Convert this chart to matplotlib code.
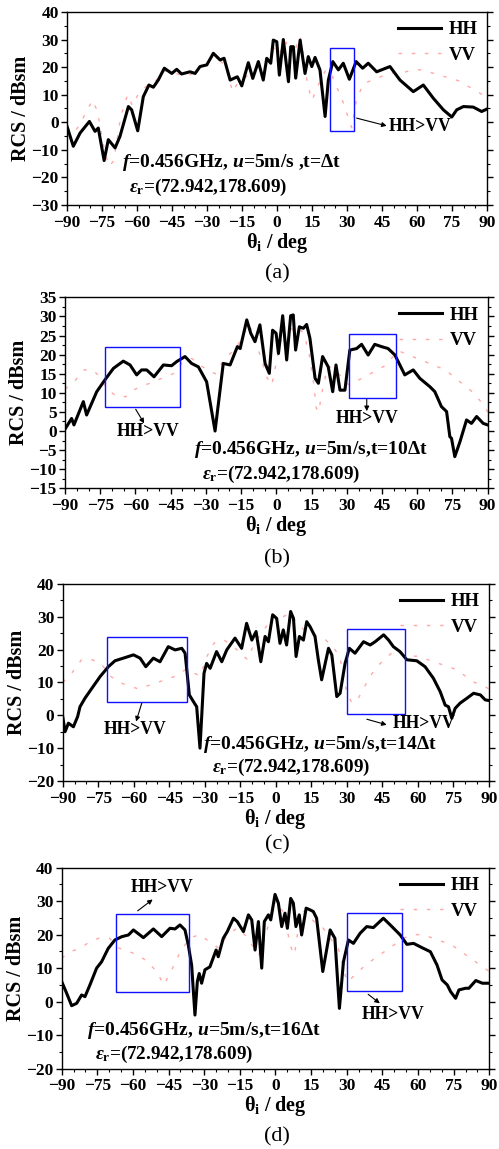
import numpy as np
import matplotlib
matplotlib.use('Agg')
import matplotlib.pyplot as plt
from matplotlib.patches import Rectangle

plt.rcParams['font.family'] = 'Liberation Serif'
plt.rcParams['font.weight'] = 'bold'
plt.rcParams['mathtext.fontset'] = 'custom'
plt.rcParams['mathtext.rm'] = 'Liberation Serif:bold'
plt.rcParams['mathtext.bf'] = 'Liberation Serif:bold'
plt.rcParams['mathtext.it'] = 'Liberation Serif:italic:bold'

# ---- (a) t = dt
hh_a_x = [-90, -87.3, -84.4, -80.4, -78, -76.6, -74.1, -72.3, -69.4, -67.3, -63.7, -62.3, -59.7, -57.3,
          -54.9, -53, -50.9, -48.3, -45.1, -43, -40.9, -37.3, -35.1, -33, -30.1, -27.3, -24.4, -22.7,
          -20.1, -17, -15.1, -12.3, -10.4, -8, -5.9, -4.4, -2.7, -1.6, -0.1, 1, 2.7, 4.9, 5.9, 7, 8,
          9.9, 12, 13.4, 14.9, 16.3, 18.4, 20.6, 22, 23.9, 26.3, 28.4, 31, 33.9, 36.7, 39.1, 42.7,
          48.4, 52.7, 58.4, 62.7, 67, 71.3, 74.9, 77, 79.9, 84.1, 87.7, 90]
hh_a_y = [-1.5, -8.7, -3.9, 0.3, -3.3, -2.1, -13.9, -6.3, -9.3, -5.1, 5.7, 4.5, -3.1, 9.3,
          13.5, 12.7, 15.3, 19.6, 17.7, 19.2, 17.5, 18.3, 17.7, 20.2, 20.8, 25, 22.6, 23.2,
          15.3, 16.5, 13.2, 21.6, 15.9, 22, 15.3, 23.2, 21.4, 29.8, 29.2, 17.1, 30, 14.7, 27.4, 27.4, 16,
          29.8, 17.7, 23.8, 20.2, 23.5, 19, 2.1, 15.3, 22, 19, 21.4, 15.6, 22, 19.6, 21.4, 18.3,
          20.2, 15.3, 11.1, 13.5, 8.7, 4.5, 1.9, 4.5, 5.7, 5.5, 3.9, 4.8]
vv_a_x = [-90, -87, -84, -81, -79, -77, -74, -72, -70, -67, -64, -62, -59, -56, -53, -50, -47, -44,
          -41, -38, -35, -32, -29, -27, -24, -22, -19, -17, -14, -11, -8, -5, -2, 0, 2, 4, 6, 8, 10,
          11, 13, 15, 17, 19, 21, 23, 25, 28, 30, 32, 34, 37, 40, 43, 46, 50, 54, 58, 62, 66, 70, 74,
          78, 82, 86, 90]
vv_a_y = [-2, -4, 0, 5, 8, 4, -10, -16, -14, 2, 10, 6, 11, 13, 14, 17, 19, 18,
          17, 17, 18, 21, 23, 24, 22, 20, 11, 14, 16, 18, 20, 22, 26, 28, 25, 29, 24, 27, 31,
          26, 14, 8, 12, 16, 19, 18, 14, 8, 3, -2, 8, 14, 15, 16, 17, 18, 18, 19, 19, 18, 17, 16,
          15, 13, 11, 9]

# ---- (b) t = 10dt
hh_b_x = [-90, -87.2, -86.2, -82.2, -80.8, -76.5, -73, -69.4, -65.2, -62.3, -59.5, -57.4, -55.2, -52.1,
          -48.1, -44.6, -42.4, -38.9, -36.1, -33.2, -29.7, -26.1, -22.6, -19.7, -16.6, -15.4, -12.6,
          -10.9, -9.1, -7, -4.8, -3, -1.6, -0.1, 0.9, 2.7, 4.4, 6.1, 7.2, 8.2, 9.8, 11.5, 12.9, 14.3,
          16.5, 17.9, 19.7, 22.1, 24, 25.4, 27.1, 29.2, 31.3, 34.2, 36.3, 39.1, 41.9, 44.8, 47.6,
          50.5, 54.7, 58.3, 61.1, 65.4, 67.5, 70.3, 72.5, 73.9, 74.6, 76, 78.2, 81, 83.1, 85.3, 88.1, 90]
hh_b_y = [0.5, 3.3, 1.6, 7.7, 4.2, 10.3, 13.4, 16.4, 18.3, 17.3, 14.7, 16, 16, 14.2,
          17.3, 17.1, 18.2, 19.5, 17.7, 16.8, 12.9, 0, 17.7, 17.3, 22.1, 21.6, 29.1,
          25.6, 23.4, 27.8, 17.7, 15.1, 26.4, 25.6, 20.3, 30.2, 18.6, 30.2, 30.4, 21.2, 27.3, 26.9, 27.9, 24.3,
          13.8, 12.5, 19.5, 16.8, 10.3, 17.3, 10.7, 10.7, 21.2, 21.6, 22.7, 19.9, 22.7, 22.1, 21.6,
          19.9, 14.7, 16, 13.8, 11.6, 10.3, 6.4, 5.1, -1.5, -1.9, -6.7, -2.8, 2.9, 2, 3.8, 2, 1.6]
vv_b_x = [-90, -86, -82, -78, -75, -72, -68, -64, -60, -56, -52, -48, -44, -40, -36, -32, -29, -26,
          -23, -20, -17, -14, -12, -10, -7, -4, -2, 0, 2, 4, 6, 8, 10, 12, 14, 16, 17, 18, 20, 22, 25,
          28, 31, 34, 37, 40, 43, 46, 49, 52, 56, 60, 64, 68, 72, 76, 80, 84, 88, 90]
vv_b_y = [11, 13, 16, 16, 14, 11, 9, 9, 11, 12, 13, 14, 15, 18, 19, 17, 16, 15,
          18, 20, 22, 25, 28, 26, 20, 14, 12, 18, 24, 28, 27, 26, 27, 25, 20, 12, 6, 5, 12, 17, 16,
          14, 12, 13, 14, 15, 16, 17, 19, 21, 20, 19, 18, 17, 16, 14, 12, 10, 7, 5]

# ---- (c) t = 14dt
hh_c_x = [-90, -89, -87.6, -85.5, -83.7, -82.7, -80.6, -77.7, -74.2, -70.7, -67.9, -64.4, -60.1, -57.3,
          -54.9, -51.7, -48.9, -45.4, -42.5, -39.7, -38.3, -36.5, -34.8, -33.4, -32, -30.3, -29.2,
          -27.7, -25, -22.8, -20.7, -17.2, -14.4, -12.3, -10.1, -8.3, -6.3, -4.5, -3.1, -1.3, 0.4,
          1.8, 3.2, 4.6, 6.3, 7.5, 8.6, 10, 11.7, 13.1, 14.5, 16.6, 18, 19.4, 22.3, 23.7, 25.8, 27.2,
          29.3, 31.1, 33.5, 37.1, 39.9, 42, 45.6, 47.7, 49.7, 52.5, 55.4, 59.6, 63.1, 66.6, 69.5,
          71.6, 73, 74.4, 75.8, 77.9, 80.8, 83.6, 86.5, 88.5, 90]
hh_c_y = [-0.4, -5, -2.4, -3.5, -0.4, 2.6, 5.2, 8.2, 11.8, 14.8, 16.6, 17.4, 18.4, 17.4,
          14.8, 17.4, 16.3, 20.9, 19.9, 20.4, 18.9, 6.2, 4.2, 2.6, -10, 12.8, 15.8,
          14.3, 19.4, 16.3, 19.9, 23.5, 20.4, 28, 22.9, 25.5, 16.3, 24, 22.4, 30.6, 29.5,
          21.9, 26, 21.4, 31.6, 29.5, 17.9, 24, 22.9, 28.5, 27, 24, 16.9, 10.8, 20.4, 18.4, 5.7, 6.7,
          15.8, 20.4, 18.9, 22.4, 21.4, 22.4, 24.5, 22.9, 20.9, 19.4, 16.9, 16.6, 14.8, 11.3, 7.2,
          3.1, 2.6, -0.9, 2.1, 3.7, 5.2, 6.7, 6.2, 4.7, 4.5]
vv_c_x = [-90, -86, -82, -78, -74, -70, -66, -62, -58, -54, -50, -46, -42, -38, -35, -32, -29, -26,
          -22, -18, -15, -12, -9, -6, -3, 0, 3, 6, 9, 12, 15, 18, 21, 24, 27, 30, 32, 34, 37, 40, 43,
          46, 49, 52, 56, 60, 64, 68, 72, 76, 80, 84, 88, 90]
vv_c_y = [10, 13, 17, 17, 16, 12, 10, 9, 8, 9, 10, 11, 12, 14, 13, 12, 18, 22,
          23, 21, 19, 17, 22, 25, 28, 31, 30, 31, 28, 26, 25, 24, 23, 21, 18, 7, 4, 4, 8, 12, 15,
          17, 19, 19, 18, 18, 17, 16, 15, 14, 12, 10, 9, 8]

# ---- (d) t = 16dt
hh_d_x = [-90, -87.9, -85.8, -83.7, -81.6, -80.2, -78.1, -75.3, -73.2, -70.4, -67.6, -64.7, -61.9, -59.8,
          -55.6, -51.4, -47.9, -44.4, -42.3, -40.2, -38.1, -36.7, -35.3, -33.9, -32.9, -32.1, -31.1,
          -29.7, -27.6, -25, -24.1, -22, -20.3, -17.7, -16.1, -13.5, -11.4, -10, -8.6, -7.2, -5.8,
          -4.7, -3, -2, -0.2, 1.2, 2.6, 4, 5, 6.4, 7.5, 8.6, 10, 11, 12.9, 14.5, 15.9, 17.3, 19.9, 23,
          25, 26.9, 28.6, 30.7, 32.8, 35.6, 38.4, 41.2, 45.4, 49, 52.5, 55.3, 58.1, 61.7, 65.2, 68,
          70.1, 72.3, 73.7, 75.8, 77.2, 80, 81.4, 84.3, 87.1, 90]
hh_d_y = [6, 2.5, -1.2, -0.5, 2, 1.5, 5, 10, 11.9, 15.9, 18.4, 19.4, 19.9, 21.4,
          19.1, 21.7, 19.4, 21.9, 21.7, 22.9, 21.4, 16.9, 10.9, -4, 6, 8.4, 5.5,
          9.5, 10.4, 15.4, 13.4, 18.9, 20.9, 24.9, 23.9, 20.9, 25.9, 24.4, 15.4, 23.9, 10,
          23.9, 25.9, 24.4, 32, 29.4, 22.4, 26.4, 21.9, 30.8, 29.4, 22.4, 25.9, 19.9, 27.9, 27.4, 26.9, 24.9, 9, 21.4,
          18.9, -2, 11.9, 18.4, 17.4, 20.4, 22.4, 22.1, 24.9, 22.4, 19.9, 17.1, 17.4, 16.1, 14.9, 10.9,
          6.5, 5, 3, 1, 3.5, 4, 4, 6.3, 5.5, 5.5]
vv_d_x = [-90, -86, -82, -78, -74, -70, -66, -62, -58, -54, -50, -47, -44, -40, -36, -32, -28, -24,
          -20, -16, -13, -10, -7, -4, -2, 0, 2, 4, 6, 8, 10, 12, 14, 16, 18, 20, 22, 24, 26, 28, 30,
          32, 35, 38, 42, 46, 50, 54, 58, 62, 66, 70, 74, 78, 82, 86, 90]
vv_d_y = [13, 15, 16, 18, 19, 19, 16, 15, 14, 12, 9, 5, 9, 15, 19, 20, 18, 16,
          20, 22, 20, 17, 14, 20, 26, 30, 28, 26, 17, 14, 24, 27, 26, 24, 23, 22, 20, 18, 17, 12, 6,
          7, 9, 11, 13, 15, 17, 19, 20, 20, 19, 18, 17, 15, 13, 11, 9]

time_labels = ['t=\u0394t', 't=10\u0394t', 't=14\u0394t', 't=16\u0394t']
panel_names = ['(a)', '(b)', '(c)', '(d)']

fig = plt.figure(figsize=(4.99, 11.49), dpi=100)

# axes rectangles (figure fractions)
rects = [[0.1343, 0.8216, 0.8417, 0.168],
         [0.1303, 0.5750, 0.8470, 0.1662],
         [0.1257, 0.3203, 0.8537, 0.1715],
         [0.1236, 0.0699, 0.8570, 0.1750]]
ylims = [(-30, 40, 10), (-15, 35, 5), (-20, 40, 10), (-20, 40, 10)]
hh_all = [(hh_a_x, hh_a_y), (hh_b_x, hh_b_y), (hh_c_x, hh_c_y), (hh_d_x, hh_d_y)]
vv_all = [(vv_a_x, vv_a_y), (vv_b_x, vv_b_y), (vv_c_x, vv_c_y), (vv_d_x, vv_d_y)]

# boxes: (x0, x1, y0, y1)
boxes = [[(22.9, 33.1, -3.3, 26.8)],
         [(-72.8, -41.2, 6.2, 21.9), (31.0, 51.1, 8.7, 25.4)],
         [(-71.3, -37.5, 4.0, 23.7), (30.0, 54.8, 0.3, 26.4)],
         [(-67.3, -36.3, 2.9, 26.3), (30.0, 53.4, 3.2, 26.6)]]
# annotations: (text x, text y, arrow start x, y, arrow end x, y, ha)
notes = [[(47.7, -1.5, 34.1, 1.5, 47.0, -1.3, 'left')],
         [(-54.5, 0.0, -59.9, 5.7, -56.3, 2.0, 'center'), (38.5, 3.3, 38.5, 8.3, 38.5, 5.2, 'center')],
         [(-59.4, -4.3, -56.6, 3.7, -59.0, -1.9, 'center'), (62.5, -2.6, 38.5, -1.2, 46.9, -2.9, 'center')],
         [(-47.9, 34.1, -58.0, 27.1, -51.7, 30.5, 'center'), (49.3, -3.8, 39.0, 2.2, 43.9, -0.5, 'center')]]
# condition text positions: (x, y of f line, x, y of eps line)
cond_pos = [(-66.6, -14.7, -63.3, -23.7),
            (-35.0, -4.8, -31.5, -11.3),
            (-30.6, -8.8, -27.0, -15.8),
            (-79.2, -8.5, -76.0, -15.7)]
label_y = [274, 559, 845, 1137]

vv_color = '#ffa8a8'

for i in range(4):
    ax = fig.add_axes(rects[i])
    vx, vy = vv_all[i]
    hx, hy = hh_all[i]
    ax.plot(vx, vy, color=vv_color, lw=1.0, ls=(0, (2.5, 7)), label='VV', zorder=2)
    ax.plot(hx, hy, color='black', lw=2.2, label='HH', zorder=3)

    y0, y1, st = ylims[i]
    ax.set_xlim(-90, 90)
    ax.set_ylim(y0, y1)
    ax.set_xticks(np.arange(-90, 91, 15))
    ax.set_xticks(np.arange(-90, 91, 5), minor=True)
    ax.set_yticks(np.arange(y0, y1 + 1, st))
    ax.set_yticks(np.arange(y0, y1 + 1, st / 2.0), minor=True)
    ax.tick_params(axis='both', which='major', labelsize=12.5, length=4, width=1, pad=2)
    ax.tick_params(axis='x', which='major', pad=3)
    ax.tick_params(axis='both', which='minor', length=2, width=0.8)
    ax.tick_params(axis='y', which='both', right=True, direction='out')
    for lab in ax.get_xticklabels() + ax.get_yticklabels():
        lab.set_fontweight('bold')
    for sp in ax.spines.values():
        sp.set_linewidth(1.0)

    ax.set_xlabel('\u03b8$_\\mathbf{i}$ / deg', fontsize=14.5, fontweight='bold', labelpad=0)
    ax.set_ylabel('RCS / dBsm', fontsize=14.5, fontweight='bold', labelpad=0)

    for (bx0, bx1, by0, by1) in boxes[i]:
        ax.add_patch(Rectangle((bx0, by0), bx1 - bx0, by1 - by0, fill=False,
                               edgecolor='#1010ff', lw=1.0, zorder=4))
    for (tx, ty, ax0, ay0, ax1, ay1, ha) in notes[i]:
        ax.text(tx, ty, 'HH>VV', fontsize=12.7, fontweight='bold', ha=ha, va='center', zorder=5)
        ax.annotate('', xy=(ax1, ay1), xytext=(ax0, ay0),
                    arrowprops=dict(arrowstyle='-|>', color='black', lw=0.8,
                                    mutation_scale=7, shrinkA=0, shrinkB=0))

    fx, fy, ex, ey = cond_pos[i]
    ax.text(fx, fy, '$\\mathit{f}$=0.456GHz, $\\mathit{u}$=5m/s' + (' ,' if i == 0 else ',') + time_labels[i],
            fontsize=14, fontweight='bold', ha='left', va='center', zorder=5)
    ax.text(ex, ey, '$\\mathit{\\varepsilon}_\\mathbf{r}$=(72.942,178.609)',
            fontsize=13.8, fontweight='bold', ha='left', va='center', zorder=5)

    leg = ax.legend(handles=ax.get_lines()[::-1], loc='upper right', frameon=False,
                    prop={'weight': 'bold', 'size': 13.5}, handlelength=2.3,
                    borderaxespad=0.1, labelspacing=0.45, handletextpad=0.4)

    fig.text(277 / 499.0, 1 - label_y[i] / 1149.0, panel_names[i], fontsize=16,
             fontweight='normal', ha='center', va='center')

fig.savefig('out.png', dpi=100)
